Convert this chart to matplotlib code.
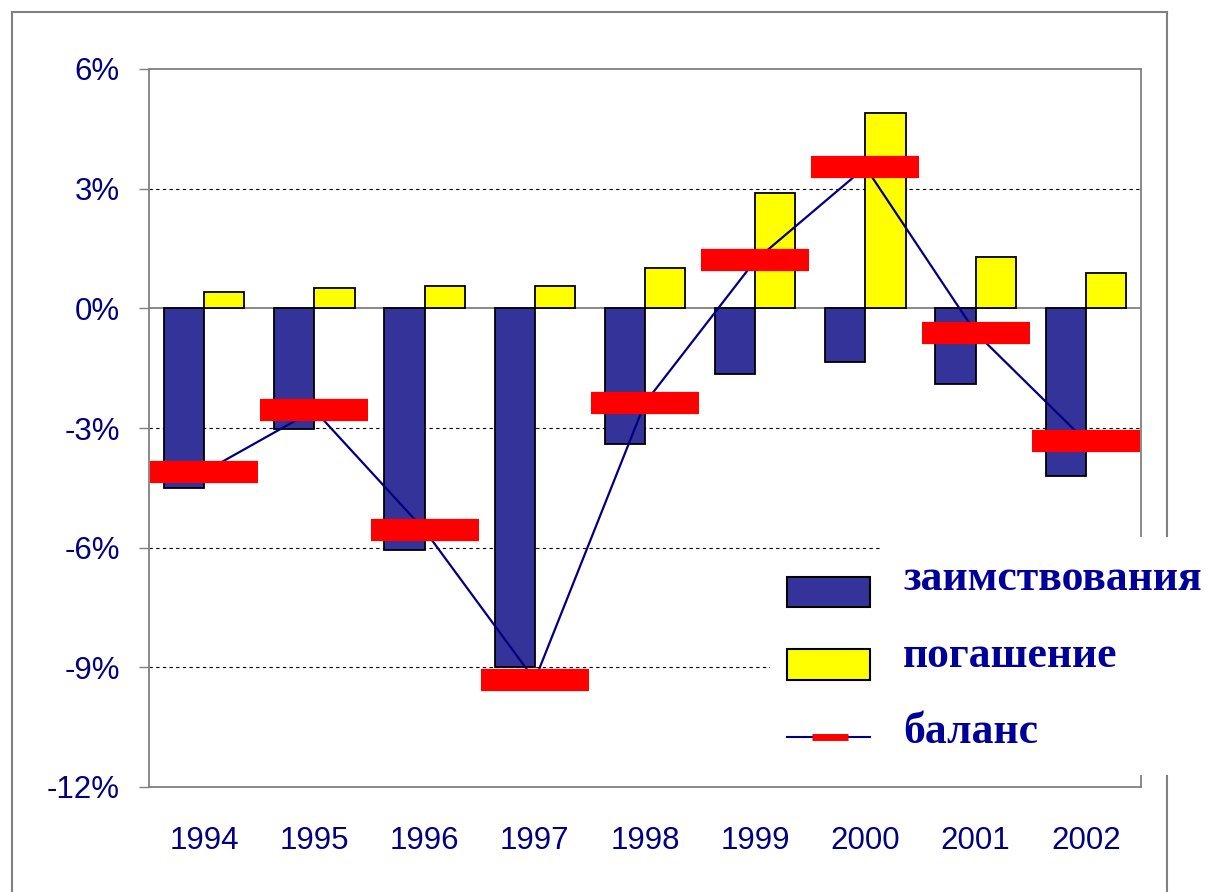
import numpy as np
import matplotlib
matplotlib.use("Agg")
import matplotlib.pyplot as plt
from matplotlib.patches import Rectangle
from matplotlib.lines import Line2D

# data (% of GDP)
years = ["1994", "1995", "1996", "1997", "1998", "1999", "2000", "2001", "2002"]
borrowing = [-4.50, -3.02, -6.05, -9.00, -3.40, -1.65, -1.34, -1.90, -4.20]
repayment = [0.42, 0.50, 0.55, 0.55, 1.02, 2.90, 4.89, 1.28, 0.88]
balance = [-4.10, -2.55, -5.56, -9.32, -2.37, 1.20, 3.54, -0.61, -3.33]
yticks = [-12, -9, -6, -3, 0, 3, 6]
legend_labels = ["заимствования", "погашение", "баланс"]

BLUE = "#333399"
YELLOW = "#FFFF00"
RED = "#FF0000"
NAVY = "#000080"
GRAY = "#808080"

W, H = 1215, 892
fig = plt.figure(figsize=(W / 100, H / 100), dpi=100)


def fx(px):
    return px / W


def fy(py):
    return 1 - py / H


ax = fig.add_axes([fx(149), fy(787), fx(1141) - fx(149), fy(69) - fy(787)])

x = np.arange(len(years))
ax.bar(x, borrowing, width=-0.365, align="edge", color=BLUE,
       edgecolor="black", linewidth=1.3, zorder=3)
ax.bar(x, repayment, width=0.365, align="edge", color=YELLOW,
       edgecolor="black", linewidth=1.3, zorder=3)
ax.plot(x, balance, color=NAVY, lw=1.6, zorder=4)
ax.plot(x, balance, ls="none", marker="_", markersize=78, mew=16,
        color=RED, zorder=5, clip_on=False)

ax.set_xlim(-0.5, len(years) - 0.5)
ax.set_ylim(-12, 6)

# dashed grid and zero line
for v in yticks:
    if v in (0, 6, -12):
        continue
    ax.axhline(v, color="black", lw=0.8, ls=(0, (3, 3)), zorder=1)
ax.axhline(0, color=GRAY, lw=1.3, zorder=2)

for s in ax.spines.values():
    s.set_color(GRAY)
    s.set_linewidth(1.3)

ax.set_yticks(yticks)
ax.set_yticklabels([f"{v}%" for v in yticks])
ax.set_xticks(x)
ax.set_xticklabels(years)
ax.tick_params(axis="y", length=7, width=1, color=GRAY, pad=14,
               labelsize=22.5, labelcolor=NAVY)
ax.tick_params(axis="x", length=0, pad=28, labelsize=22.5, labelcolor=NAVY)
for lab in ax.get_xticklabels() + ax.get_yticklabels():
    lab.set_fontfamily("Liberation Sans")

# outer frame
fig.add_artist(Line2D([fx(12), fx(12)], [fy(12), 0], color=GRAY, lw=1.5))
fig.add_artist(Line2D([fx(12), fx(1167)], [fy(12), fy(12)], color=GRAY, lw=1.5))
fig.add_artist(Line2D([fx(1167), fx(1167)], [fy(12), 0], color=GRAY, lw=1.5))

# legend boxes (white, covering the chart)
fig.add_artist(Rectangle((fx(882), fy(775)), fx(1215) - fx(882), fy(537) - fy(775),
                         transform=fig.transFigure, facecolor="white",
                         edgecolor="none", zorder=5))
fig.add_artist(Rectangle((fx(770), fy(775)), fx(882) - fx(770), fy(555) - fy(775),
                         transform=fig.transFigure, facecolor="white",
                         edgecolor="none", zorder=5))

# legend keys
fig.add_artist(Rectangle((fx(787), fy(607)), fx(870) - fx(787), fy(577) - fy(607),
                         transform=fig.transFigure, facecolor=BLUE,
                         edgecolor="black", lw=1.5, zorder=6))
fig.add_artist(Rectangle((fx(787), fy(680)), fx(870) - fx(787), fy(649) - fy(680),
                         transform=fig.transFigure, facecolor=YELLOW,
                         edgecolor="black", lw=1.5, zorder=6))
fig.add_artist(Line2D([fx(787), fx(870)], [fy(737), fy(737)], color=NAVY,
                      lw=1.5, zorder=6))
fig.add_artist(Line2D([fx(812), fx(848)], [fy(737), fy(737)], color=RED,
                      lw=5, solid_capstyle="butt", zorder=7))

for lab, base in zip(legend_labels, [590, 667, 743]):
    fig.text(fx(903), fy(base), lab, fontsize=31.5, fontweight="bold",
             family="Liberation Serif", color="#000099", va="baseline",
             ha="left", zorder=7)

fig.savefig("out.png", dpi=100)
